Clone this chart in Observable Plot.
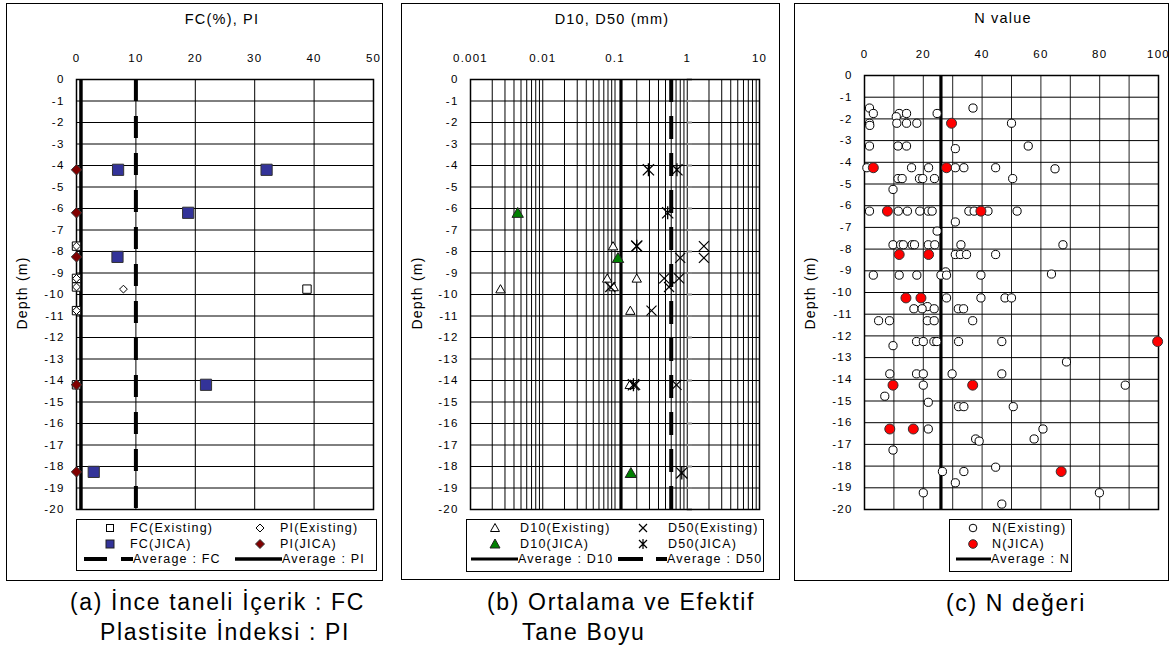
<!DOCTYPE html>
<html><head><meta charset="utf-8">
<script src="https://cdn.jsdelivr.net/npm/d3@7"></script>
<script src="https://cdn.jsdelivr.net/npm/@observablehq/plot@0.6"></script>
<style>
body{margin:0;background:#fff;font-family:"Liberation Sans",Arial,sans-serif;color:#000;}
#page{position:relative;width:1172px;height:651px;overflow:hidden;background:#fff;}
.abs{position:absolute;line-height:0;}
.abs svg{display:block;}
.box{position:absolute;border:1px solid #000;box-sizing:border-box;}
.legend{position:absolute;border:1px solid #000;box-sizing:border-box;background:#fff;}
.ltxt{position:absolute;font-size:12.5px;letter-spacing:1.2px;line-height:16px;white-space:nowrap;}
.title{position:absolute;font-size:14.5px;letter-spacing:1.2px;line-height:18px;text-align:center;white-space:nowrap;}
.cap{position:absolute;font-size:23px;letter-spacing:1.65px;line-height:26px;white-space:nowrap;}
</style></head>
<body><div id="page"></div>
<script>
// ---------- shared ticks ----------
const depthTicks = [0,-1,-2,-3,-4,-5,-6,-7,-8,-9,-10,-11,-12,-13,-14,-15,-16,-17,-18,-19,-20];
const fcTicks = [0,10,20,30,40,50];
const grainTicks = [0.001,0.01,0.1,1,10];
const grainTickLabels = ["0.001","0.01","0.1","1","10"];
const nTicks = [0,20,40,60,80,100];
const nGrid = [0,10,20,30,40,50,60,70,80,90,100];

// ---------- panel (a): FC / PI  [value, depth] ----------
const fcExisting = [[0,-7.75],[0,-9.25],[0,-9.65],[38.8,-9.75],[0,-10.75],[0,-14.2]];
const piExisting = [[0,-7.75],[0,-9.25],[0,-9.65],[7.9,-9.75],[0,-10.75],[0,-14.2]];
const fcJica = [[7,-4.2],[32,-4.2],[18.8,-6.2],[6.9,-8.25],[21.8,-14.2],[2.9,-18.25]];
const piJica = [[0,-4.2],[0,-6.2],[0,-8.25],[0,-14.2],[0,-18.25]];
const fcAverage = 10.0;
const piAverage = 0.75;

// ---------- panel (b): D10 / D50 (mm) [value, depth] ----------
const d10Existing = [[0.094,-7.75],[0.078,-9.25],[0.2,-9.25],[0.096,-9.65],[0.0026,-9.75],[0.163,-10.75],[0.16,-14.2]];
const d10Jica = [[0.0045,-6.2],[0.11,-8.3],[0.166,-18.3]];
const d50Existing = [[0.2,-7.75],[1.7,-7.75],[1.7,-8.3],[0.8,-8.3],[0.48,-9.25],[0.77,-9.25],[0.086,-9.65],[0.56,-9.65],[0.32,-10.75],[0.19,-14.2],[0.71,-14.2]];
const d50Jica = [[0.29,-4.2],[0.72,-4.2],[0.536,-6.2],[0.2,-7.75],[0.18,-14.2],[0.84,-18.3]];
const d10Average = 0.121;
const d50Average = 0.6;

// ---------- panel (c): N value [N, depth] ----------
const nExisting = [
 [1.7,-1.5],[36.9,-1.5],[3.0,-1.75],[11.8,-1.75],[14.3,-1.75],[24.7,-1.75],[10.8,-1.9],
 [1.7,-2.2],[11.0,-2.2],[14.3,-2.2],[17.8,-2.2],[50.0,-2.2],[1.8,-2.3],
 [1.7,-3.25],[11.4,-3.25],[14.3,-3.25],[55.7,-3.25],[30.9,-3.37],
 [0.8,-4.25],[16.0,-4.25],[21.8,-4.25],[30.9,-4.25],[33.8,-4.25],[44.6,-4.25],[64.8,-4.3],
 [11.4,-4.75],[12.8,-4.75],[18.7,-4.75],[19.8,-4.75],[23.8,-4.75],[50.4,-4.75],[9.7,-5.25],
 [1.7,-6.25],[11.5,-6.25],[14.6,-6.25],[18.8,-6.25],[21.7,-6.25],[23.0,-6.25],[35.5,-6.25],[37.3,-6.25],[42.0,-6.25],[51.9,-6.25],
 [30.9,-6.75],[24.7,-7.17],
 [9.7,-7.8],[12.3,-7.8],[13.2,-7.8],[16.2,-7.8],[17.0,-7.8],[21.7,-7.8],[23.9,-7.8],[32.8,-7.8],[67.5,-7.8],
 [30.9,-8.25],[32.6,-8.25],[34.7,-8.25],[44.6,-8.25],
 [27.6,-9.05],[3.0,-9.2],[11.8,-9.2],[17.8,-9.2],[26.0,-9.2],[27.9,-9.2],[39.6,-9.2],[63.6,-9.15],
 [27.9,-10.25],[39.6,-10.25],[47.8,-10.25],[50.0,-10.25],
 [21.4,-10.65],[16.8,-10.75],[19.6,-10.75],[23.7,-10.75],[31.9,-10.75],[33.7,-10.75],
 [4.8,-11.3],[8.5,-11.3],[21.4,-11.3],[23.7,-11.3],[36.8,-11.3],
 [17.7,-12.26],[20.0,-12.26],[23.6,-12.26],[24.6,-12.26],[32.0,-12.26],[46.7,-12.26],[9.7,-12.45],
 [68.7,-13.2],
 [8.6,-13.75],[17.7,-13.75],[20.0,-13.75],[29.8,-13.75],[46.7,-13.75],
 [20.0,-14.27],[88.7,-14.27],[6.9,-14.78],[21.7,-15.06],
 [32.0,-15.26],[33.8,-15.26],[50.6,-15.26],
 [21.7,-16.29],[60.7,-16.29],[37.8,-16.75],[57.7,-16.75],[39.0,-16.85],[9.7,-17.26],
 [44.6,-18.05],[26.5,-18.25],[33.8,-18.25],[30.9,-18.77],[20.0,-19.23],[79.9,-19.23],[46.7,-19.75]
];
const nJica = [[29.6,-2.2],[3.0,-4.25],[27.9,-4.25],[7.8,-6.25],[39.6,-6.25],[11.8,-8.25],[21.8,-8.25],
 [14.1,-10.25],[19.2,-10.25],[99.7,-12.26],[9.7,-14.27],[36.8,-14.27],[8.6,-16.29],[16.6,-16.29],[66.9,-18.25]];
const nAverage = 26.0;

// ---------- custom symbols (r = half size) ----------
const half = s => Math.sqrt(s / Math.PI);
const symSquare = {draw(c,s){const h=half(s);c.moveTo(-h,-h);c.lineTo(h,-h);c.lineTo(h,h);c.lineTo(-h,h);c.closePath();}};
const symDiamond = {draw(c,s){const h=half(s);c.moveTo(0,-h);c.lineTo(h,0);c.lineTo(0,h);c.lineTo(-h,0);c.closePath();}};
const symTriangle = {draw(c,s){const h=half(s);c.moveTo(0,-h*0.95);c.lineTo(h,h*0.8);c.lineTo(-h,h*0.8);c.closePath();}};
const symTimes = {draw(c,s){const h=half(s);c.moveTo(-h,-h);c.lineTo(h,h);c.moveTo(-h,h);c.lineTo(h,-h);}};
const symStar = {draw(c,s){const h=half(s);c.moveTo(-h,-h);c.lineTo(h,h);c.moveTo(-h,h);c.lineTo(h,-h);c.moveTo(0,-h*1.15);c.lineTo(0,h*1.15);}};

const X = d => d[0], Y = d => d[1];
const FONT = '"Liberation Sans", Arial, sans-serif';
const baseStyle = {fontFamily: FONT, background: "transparent", color: "#000", overflow: "visible", letterSpacing: "1.2px"};
const yAxis = () => Plot.axisY(depthTicks, {anchor: "left", tickSize: 0, tickPadding: 12, tickFormat: d => String(d), label: null, fontSize: 11.5});
const yGrid = () => Plot.gridY(depthTicks, {stroke: "#000", strokeOpacity: 1, strokeWidth: 1});

const page = document.getElementById("page");
function put(node, left, top) { node.style.position = "absolute"; node.style.left = left + "px"; node.style.top = top + "px"; page.appendChild(node); return node; }
function div(cls, html, css) { const d = document.createElement("div"); d.className = cls; d.innerHTML = html; if (css) d.style.cssText = css; page.appendChild(d); return d; }

// boxes
div("box", "", "left:6px;top:3px;width:377px;height:578px;");
div("box", "", "left:401px;top:3px;width:379px;height:577px;");
div("box", "", "left:794px;top:3px;width:375px;height:578px;");

// ---------- Panel (a) ----------
const plotA = Plot.plot({
  width: 375, height: 515, marginLeft: 69, marginRight: 9, marginTop: 75, marginBottom: 10,
  style: baseStyle,
  x: {domain: [0, 50]},
  y: {domain: [-20, 0]},
  marks: [
    Plot.gridX(fcTicks, {stroke: "#000", strokeOpacity: 1}),
    yGrid(),
    Plot.axisX(fcTicks, {anchor: "top", tickSize: 0, tickPadding: 18, label: null, fontSize: 11.5}),
    yAxis(),
    Plot.frame({stroke: "#000", strokeWidth: 1.5}),
    Plot.ruleX([piAverage], {stroke: "#000", strokeWidth: 3.5}),
    Plot.ruleX([fcAverage], {stroke: "#000", strokeWidth: 4, strokeDasharray: "22,15"}),
    Plot.dot(fcExisting, {x: X, y: Y, symbol: symSquare, r: 4.2, fill: "#fff", stroke: "#000", strokeWidth: 1}),
    Plot.dot(piExisting, {x: X, y: Y, symbol: symDiamond, r: 3.9, fill: "#fff", stroke: "#000", strokeWidth: 1}),
    Plot.dot(fcJica, {x: X, y: Y, symbol: symSquare, r: 5.6, fill: "#333399", stroke: "#333", strokeWidth: 1}),
    Plot.dot(piJica, {x: X, y: Y, symbol: symDiamond, r: 5.2, fill: "#800000", stroke: "#333", strokeWidth: 1})
  ]
});
put(plotA, 7, 4);

// ---------- Panel (b) ----------
const grainGrid = [];
for (let e = -3; e <= 0; e++) for (let m = 1; m <= 9; m++) grainGrid.push(+(m * Math.pow(10, e)).toPrecision(3));
grainGrid.push(10);
const plotB = Plot.plot({
  width: 377, height: 515, marginLeft: 68, marginRight: 20, marginTop: 75, marginBottom: 10,
  style: baseStyle,
  x: {type: "log", domain: [0.001, 10]},
  y: {domain: [-20, 0]},
  marks: [
    Plot.gridX(grainGrid, {stroke: "#000", strokeOpacity: 1}),
    yGrid(),
    Plot.ruleY(depthTicks, {x1: 1, x2: 1.18, stroke: "#888", strokeWidth: 2}),
    Plot.axisX(grainTicks, {anchor: "top", tickSize: 0, tickPadding: 18, label: null, fontSize: 11.5,
      tickFormat: d => grainTickLabels[grainTicks.indexOf(d)]}),
    yAxis(),
    Plot.frame({stroke: "#000", strokeWidth: 1.5}),
    Plot.ruleX([d10Average], {stroke: "#000", strokeWidth: 3.2}),
    Plot.ruleX([d50Average], {stroke: "#000", strokeWidth: 4, strokeDasharray: "23,14"}),
    Plot.dot(d10Existing, {x: X, y: Y, symbol: symTriangle, r: 4.7, fill: "#fff", stroke: "#000", strokeWidth: 1}),
    Plot.dot(d50Existing, {x: X, y: Y, symbol: symTimes, r: 5, fill: "none", stroke: "#000", strokeWidth: 1.2}),
    Plot.dot(d10Jica, {x: X, y: Y, symbol: symTriangle, r: 5.7, fill: "#008000", stroke: "#222", strokeWidth: 1}),
    Plot.dot(d50Jica, {x: X, y: Y, symbol: symStar, r: 5.6, fill: "none", stroke: "#000", strokeWidth: 1.3})
  ]
});
put(plotB, 402, 4);

// ---------- Panel (c) ----------
const plotC = Plot.plot({
  width: 373, height: 515, marginLeft: 69, marginRight: 10, marginTop: 71, marginBottom: 10,
  style: baseStyle,
  x: {domain: [0, 100]},
  y: {domain: [-20, 0]},
  marks: [
    Plot.gridX(nGrid, {stroke: "#222", strokeOpacity: 1}),
    yGrid(),
    Plot.axisX(nTicks, {anchor: "top", tickSize: 0, tickPadding: 18, label: null, fontSize: 11.5}),
    yAxis(),
    Plot.frame({stroke: "#000", strokeWidth: 1.5}),
    Plot.ruleX([nAverage], {stroke: "#000", strokeWidth: 3.2}),
    Plot.dot(nExisting, {x: X, y: Y, symbol: "circle", r: 4.1, fill: "#fff", stroke: "#000", strokeWidth: 1}),
    Plot.dot(nJica, {x: X, y: Y, symbol: "circle", r: 5, fill: "#ff0000", stroke: "#333", strokeWidth: 1})
  ]
});
put(plotC, 795, 4);

// ---------- Titles and depth labels ----------
function title(text, cx, cy) { div("title", text, `left:${cx-100}px;top:${cy-9}px;width:200px;`); }
title("FC(%), PI", 222, 19);
title("D10, D50 (mm)", 612, 19);
title("N value", 1003, 18);
function depthLabel(cx, cy) { div("title", "Depth (m)", `left:${cx-60}px;top:${cy-9}px;width:120px;font-size:14px;transform:rotate(-90deg);`); }
depthLabel(22, 293);
depthLabel(417, 293);
depthLabel(810, 293);

// ---------- Legends ----------
function legendBox(l, t, w, h) { div("legend", "", `left:${l}px;top:${t}px;width:${w}px;height:${h}px;`); }
function sym(cx, cy, inner) { div("abs", `<svg width="16" height="16" viewBox="-8 -8 16 16">${inner}</svg>`, `left:${cx-8}px;top:${cy-8}px;width:16px;height:16px;`); }
function line(x1, x2, cy, w, dash) { const L = x2 - x1; div("abs", `<svg width="${L}" height="8"><line x1="0" x2="${L}" y1="4" y2="4" stroke="#000" stroke-width="${w}" ${dash ? `stroke-dasharray="${dash}"` : ""}/></svg>`, `left:${x1}px;top:${cy-4}px;width:${L}px;height:8px;`); }
function ltxt(text, x, cy) { div("ltxt", text, `left:${x}px;top:${cy-8}px;`); }
const shp = {
  openSquare: '<rect x="-3.5" y="-3.5" width="7" height="7" fill="#fff" stroke="#000"/>',
  blueSquare: '<rect x="-4" y="-4" width="8" height="8" fill="#333399" stroke="#222"/>',
  openDiamond: '<path d="M0,-4L4,0L0,4L-4,0Z" fill="#fff" stroke="#000"/>',
  redDiamond: '<path d="M0,-4.5L4.5,0L0,4.5L-4.5,0Z" fill="#800000" stroke="#333"/>',
  openTri: '<path d="M0,-4.5L4.5,3.5L-4.5,3.5Z" fill="#fff" stroke="#000"/>',
  greenTri: '<path d="M0,-5L5,4L-5,4Z" fill="#008000" stroke="#222"/>',
  times: '<path d="M-4,-4L4,4M-4,4L4,-4" stroke="#000" stroke-width="1.2" fill="none"/>',
  star: '<path d="M-4,-4L4,4M-4,4L4,-4M0,-5L0,5" stroke="#000" stroke-width="1.2" fill="none"/>',
  openCircle: '<circle r="3.8" fill="#fff" stroke="#000"/>',
  redCircle: '<circle r="4.3" fill="#ff0000" stroke="#333"/>'
};
// (a)
legendBox(76, 519, 301, 52);
sym(110, 528, shp.openSquare); ltxt("FC(Existing)", 130, 528);
sym(260, 528, shp.openDiamond); ltxt("PI(Existing)", 280, 528);
sym(110, 544, shp.blueSquare); ltxt("FC(JICA)", 130, 544);
sym(260, 544, shp.redDiamond); ltxt("PI(JICA)", 280, 544);
line(84, 133, 559, 4, "23,14"); ltxt("Average : FC", 133, 559);
line(235, 282, 559, 3.5); ltxt("Average : PI", 282, 559);
// (b)
legendBox(466, 519, 298, 53);
sym(495, 528, shp.openTri); ltxt("D10(Existing)", 520, 528);
sym(643, 528, shp.times); ltxt("D50(Existing)", 668, 528);
sym(495, 544, shp.greenTri); ltxt("D10(JICA)", 520, 544);
sym(643, 544, shp.star); ltxt("D50(JICA)", 668, 544);
line(471, 518, 559, 3.2); ltxt("Average : D10", 518, 559);
line(618, 667, 559, 4, "25,13"); ltxt("Average : D50", 667, 559);
// (c)
legendBox(949, 519, 123, 53);
sym(973, 528, shp.openCircle); ltxt("N(Existing)", 992, 528);
sym(973, 544, shp.redCircle); ltxt("N(JICA)", 992, 544);
line(956, 991, 559, 3.2); ltxt("Average : N", 991, 559);

// ---------- Captions ----------
div("cap", "(a) İnce taneli İçerik : FC", "left:70px;top:589px;");
div("cap", "Plastisite İndeksi : PI", "left:100px;top:619px;");
div("cap", "(b) Ortalama ve Efektif", "left:487px;top:589px;");
div("cap", "Tane Boyu", "left:522px;top:619px;");
div("cap", "(c) N değeri", "left:946px;top:590px;");
</script>
</body></html>
